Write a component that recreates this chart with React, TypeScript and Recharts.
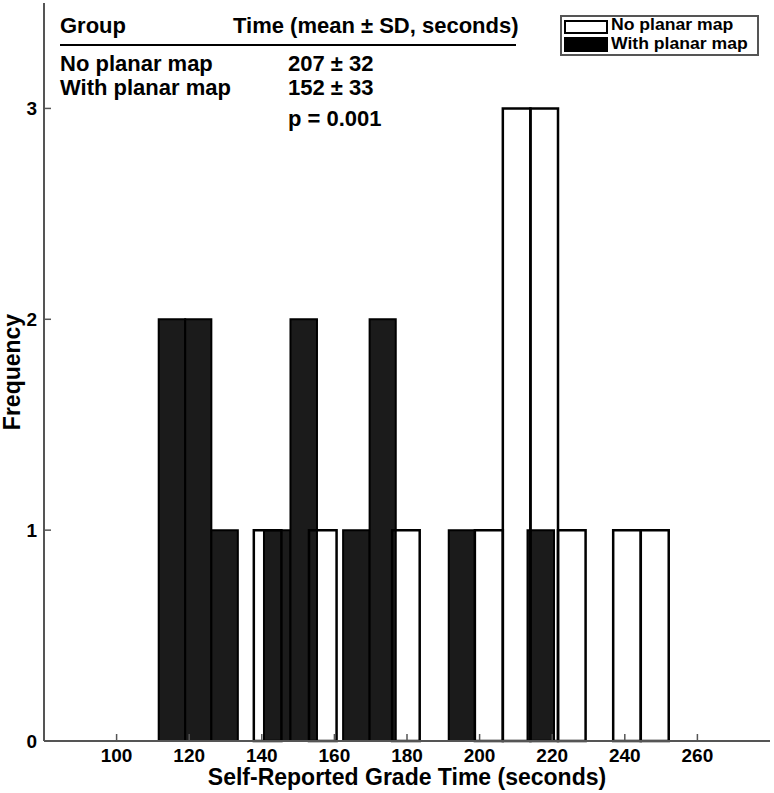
import { ComposedChart, XAxis, YAxis, ReferenceArea } from 'recharts';

// histogram bins (seconds)
const withEdges = [111.6, 118.9, 126.1, 133.4, 140.6, 147.9, 155.2, 162.4, 169.7, 176.9, 184.2, 191.5, 198.7, 206.0, 213.2, 220.5];
const withCounts = [2, 2, 1, 0, 1, 2, 0, 1, 2, 0, 0, 1, 0, 0, 1];
const noEdges = [137.8, 145.4, 153.0, 160.6, 168.3, 175.9, 183.5, 191.1, 198.7, 206.4, 214.0, 221.6, 229.2, 236.8, 244.4, 252.1];
const noCounts = [1, 0, 1, 0, 0, 1, 0, 0, 1, 3, 3, 1, 0, 1, 1];

const xTicks = [100, 120, 140, 160, 180, 200, 220, 240, 260];
const yTicks = [0, 1, 2, 3];

const statRows = [
    { group: 'No planar map', value: '207 ± 32' },
    { group: 'With planar map', value: '152 ± 33' },
];
const pValue = 'p = 0.001';

const FONT = '"Liberation Sans", Arial, Helvetica, sans-serif';
const AXIS = '#555';

type Bin = { x1: number; x2: number; n: number };
const toBins = (edges: number[], counts: number[]): Bin[] =>
    counts.map((n, i) => ({ x1: edges[i], x2: edges[i + 1], n })).filter((b) => b.n > 0);

const withBins = toBins(withEdges, withCounts);
const noBins = toBins(noEdges, noCounts);

const BottomTick = ({ x, y, payload }: any) => (
    <g>
        <line x1={x} y1={y} x2={x} y2={y - 7} stroke={AXIS} strokeWidth={1.5} />
        <text x={x} y={y + 21} textAnchor="middle" fontFamily={FONT} fontWeight="bold" fontSize={19} fill="#000">
            {payload.value}
        </text>
    </g>
);
const TopTick = ({ x, y }: any) => <line x1={x} y1={y} x2={x} y2={y + 6} stroke={AXIS} strokeWidth={1.5} />;
const LeftTick = ({ x, y, payload }: any) => (
    <g>
        <line x1={x} y1={y} x2={x + 7} y2={y} stroke={AXIS} strokeWidth={1.5} />
        <text x={x - 7} y={y + 7} textAnchor="end" fontFamily={FONT} fontWeight="bold" fontSize={19} fill="#000">
            {payload.value}
        </text>
    </g>
);
const RightTick = ({ x, y }: any) => <line x1={x} y1={y} x2={x - 6} y2={y} stroke={AXIS} strokeWidth={1.5} />;

const XTitle = ({ viewBox }: any) => (
    <text x={viewBox.x + viewBox.width / 2} y={785} textAnchor="middle" fontFamily={FONT} fontWeight="bold" fontSize={23} fill="#000">
        Self-Reported Grade Time (seconds)
    </text>
);
const YTitle = ({ viewBox }: any) => {
    const cy = viewBox.y + viewBox.height / 2;
    return (
        <text x={12} y={cy} transform={`rotate(-90 12 ${cy})`} textAnchor="middle" dominantBaseline="central" fontFamily={FONT} fontWeight="bold" fontSize={23} fill="#000">
            Frequency
        </text>
    );
};

const txt = { position: 'absolute' as const, fontFamily: FONT, fontWeight: 'bold' as const, fontSize: 22, lineHeight: '22px', whiteSpace: 'nowrap' as const, color: '#000' };

export default function App() {
    return (
        <div style={{ position: 'absolute', left: 0, top: 0, width: 774, height: 793, background: '#fff' }}>
            <ComposedChart width={774} height={793} margin={{ top: 3, right: 4, bottom: 0, left: 0 }}>
                <XAxis type="number" dataKey="x" domain={[80, 280]} ticks={xTicks} allowDataOverflow height={52}
                    axisLine={{ stroke: AXIS, strokeWidth: 2 }} tickLine={false} tickSize={0} tickMargin={0}
                    tick={BottomTick} interval={0} label={XTitle} />
                <XAxis xAxisId="top" orientation="top" type="number" domain={[80, 280]} ticks={xTicks} allowDataOverflow height={0}
                    axisLine={{ stroke: AXIS, strokeWidth: 2 }} tickLine={false} tickSize={0} tickMargin={0} tick={TopTick} interval={0} />
                <YAxis type="number" domain={[0, 3.5]} ticks={yTicks} allowDataOverflow width={44}
                    axisLine={{ stroke: AXIS, strokeWidth: 2 }} tickLine={false} tickSize={0} tickMargin={0}
                    tick={LeftTick} interval={0} label={YTitle} />
                <YAxis yAxisId="right" orientation="right" type="number" domain={[0, 3.5]} ticks={yTicks} allowDataOverflow width={0}
                    axisLine={{ stroke: AXIS, strokeWidth: 2 }} tickLine={false} tickSize={0} tickMargin={0} tick={RightTick} interval={0} />
                {withBins.map((b, i) => (
                    <ReferenceArea key={'w' + i} x1={b.x1} x2={b.x2} y1={0} y2={b.n}
                        fill="#1b1b1b" fillOpacity={1} stroke="#000" strokeWidth={2} ifOverflow="visible" />
                ))}
                {noBins.map((b, i) => (
                    <ReferenceArea key={'n' + i} x1={b.x1} x2={b.x2} y1={0} y2={b.n}
                        fill="none" fillOpacity={0} stroke="#000" strokeWidth={2.5} ifOverflow="visible" />
                ))}
            </ComposedChart>

            {/* summary table */}
            <div style={{ ...txt, left: 60, top: 15 }}>Group</div>
            <div style={{ ...txt, left: 233, top: 15 }}>Time (mean ± SD, seconds)</div>
            <div style={{ position: 'absolute', left: 60, top: 44, width: 456, height: 2, background: '#000' }} />
            {statRows.map((r, i) => (
                <div key={r.group}>
                    <div style={{ ...txt, left: 60, top: 53 + i * 24 }}>{r.group}</div>
                    <div style={{ ...txt, left: 288, top: 53 + i * 24 }}>{r.value}</div>
                </div>
            ))}
            <div style={{ ...txt, left: 288, top: 108 }}>{pValue}</div>

            {/* legend */}
            <div style={{ position: 'absolute', left: 560, top: 15, width: 199, height: 41, boxSizing: 'border-box', border: `2px solid ${AXIS}`, background: '#fff' }}>
                <div style={{ position: 'absolute', left: 2, top: 3, width: 44, height: 14, boxSizing: 'border-box', border: '2.5px solid #000', background: '#fff' }} />
                <div style={{ position: 'absolute', left: 2, top: 20, width: 44, height: 15, background: '#000' }} />
                <div style={{ ...txt, fontSize: 16, lineHeight: '16px', left: 49, top: 0, transform: 'scaleX(1.1)', transformOrigin: 'left' }}>No planar map</div>
                <div style={{ ...txt, fontSize: 16, lineHeight: '16px', left: 49, top: 19, transform: 'scaleX(1.1)', transformOrigin: 'left' }}>With planar map</div>
            </div>
        </div>
    );
}
